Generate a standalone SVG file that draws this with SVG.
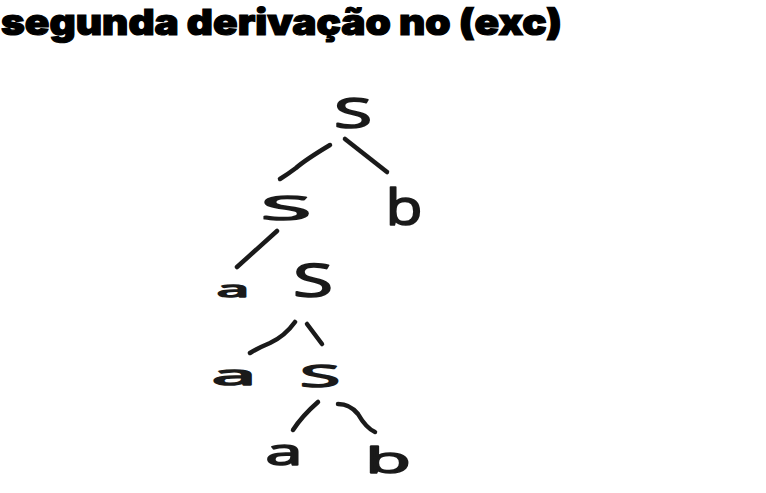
<svg xmlns="http://www.w3.org/2000/svg" width="766" height="493" viewBox="0 0 766 493">
<style>
.title{font-family:Inter,Lato,"Liberation Sans",sans-serif;font-weight:900;font-size:36px;fill:#000;stroke:#000;stroke-width:1.2}
.sym{font-family:"Open Sans","Liberation Sans",sans-serif;fill:#1a1a1a;stroke:#1a1a1a;stroke-width:1.6;stroke-linejoin:round;text-anchor:middle}
.edge{fill:none;stroke:#1a1a1a;stroke-width:4.5;stroke-linecap:round;stroke-linejoin:round}
</style>
<rect width="766" height="493" fill="#fff"/>
<text class="title" x="1" y="35" textLength="561" lengthAdjust="spacingAndGlyphs">segunda derivação no (exc)</text>
<g id="connectors">
<path class="edge" d="M330 145 Q305 160 296 168 Q288 174 280 179"/>
<path class="edge" d="M345 139 L387 172"/>
<path class="edge" d="M277 231 L237 267"/>
<path class="edge" d="M295 322 Q285 336 270 343 Q258 348 250 353"/>
<path class="edge" d="M307 324 L322 344"/>
<path class="edge" d="M318 402 Q302 416 293 430"/>
<path class="edge" d="M338 404 Q350 404 358 414 Q366 428 375 432"/>
</g>
<g id="n-s1"><text class="sym" x="353" y="128" font-size="42" textLength="38" lengthAdjust="spacingAndGlyphs">S</text></g>
<g id="n-s2"><text class="sym" x="286" y="220" font-size="32" textLength="50" lengthAdjust="spacingAndGlyphs">S</text></g>
<g id="n-b1"><text class="sym" x="404" y="225" font-size="50" textLength="37" lengthAdjust="spacingAndGlyphs">b</text></g>
<g id="n-a1"><text class="sym" x="233" y="297" font-size="22" textLength="32" lengthAdjust="spacingAndGlyphs">a</text></g>
<g id="n-s3"><text class="sym" x="313" y="297" font-size="46" textLength="40" lengthAdjust="spacingAndGlyphs">S</text></g>
<g id="n-a2"><text class="sym" x="234" y="385" font-size="28" textLength="44" lengthAdjust="spacingAndGlyphs">a</text></g>
<g id="n-s4"><text class="sym" x="320" y="387" font-size="31" textLength="40" lengthAdjust="spacingAndGlyphs">S</text></g>
<g id="n-a3"><text class="sym" x="284" y="465" font-size="36" textLength="37" lengthAdjust="spacingAndGlyphs">a</text></g>
<g id="n-b2"><text class="sym" x="388" y="473" font-size="37" textLength="46" lengthAdjust="spacingAndGlyphs">b</text></g>
</svg>
